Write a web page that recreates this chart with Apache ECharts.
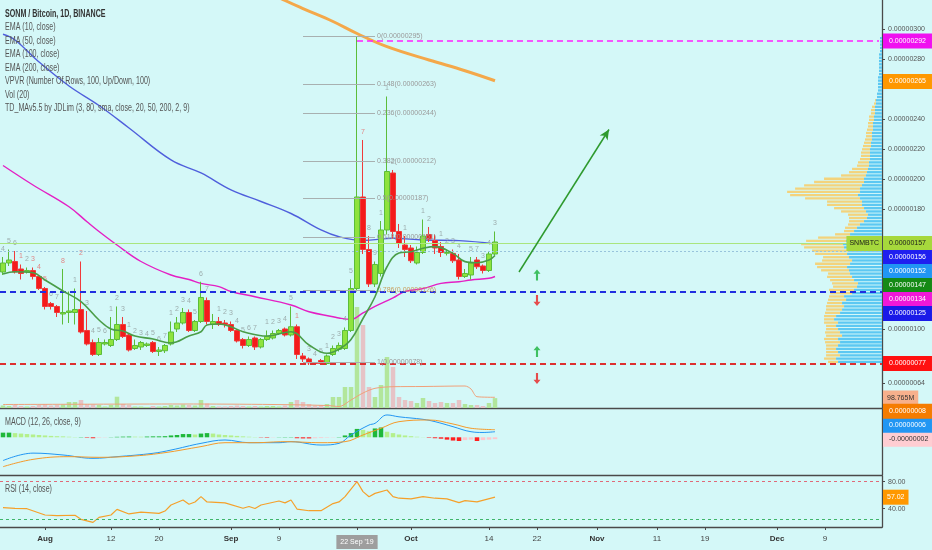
<!DOCTYPE html>
<html><head><meta charset="utf-8">
<script src="https://cdn.jsdelivr.net/npm/echarts@6/dist/echarts.min.js"></script>
<style>html,body{margin:0;padding:0;background:#d4f8f8;overflow:hidden}#c{width:932px;height:550px}</style>
</head><body><div id="c"></div>
<script>
// ---------- categories ----------
const dates = [];
for (let i = 0; i < 147; i++) { dates.push(new Date(Date.UTC(2019, 6, 25 + i)).toISOString().slice(0, 10)); }

// ---------- candles (satoshi) ----------
const open = [138,144,145,140,138,139,135,127,117,115,110,111,111,113,99,91,83,90,89,93,103,96,87,88,89,91,85,85.5,90,100,104,111,99,105,119,103,105,104,103,99,93,89,94,88,93,94,97,100,96,101.5,82,80,77.5,79,77,83,86.5,87,99,127,188,153,130,137,166,204,165,156,154,144,151,163,159,155,150.5,150.4,146,135,136,146,142,139,150];
const close = [144,146,138,137,139,135,127,115,115,111,111,112,113,98,90,83,91,91,93,103,95,86,89,91,90,85,86,89,98,104,111,99,105,121,105,105,103,103,99,92,89,93,88,93,95,97,99,96,101.5,83,80,77.5,77,77,82,87,89,99,127,188,153,130,143,166,205,165,157,153,145.5,151,162,160,154,151,151,145.5,135,137,144,141.5,139,150,158];
const low = [136,142,137,133,137,133,126,113,113,108,103,104,103,97,89,82,82,89,88,92,94,85,86,86,88,84,82,84,89,98,103,98,98,104,103,100,102,101,98,91,87,88,86,87,92,93,96,95,95,80,78,76,76,76,76,82,85,86,98,125,150,128,128,135,163,160,154,148,144,143,150,158,150,148,149,144,133,134,133,140,137,138,149];
const high = [148,153,152,143,141,141,136,128,118,116,140,125,127,145,112,93,94,93,108,115,108,97,93,92,91,92,88,90,105,108,114,113,106,131.5,121,110,108,106,105,100,94,95,95,94,99,99,100,101,115,103,84,81,78,80,83,89,91,101,133,295,226,162,145,172,255,206,170,162,156,155,173,168,163,158,153,153,150,140,148,148,143,152,165];
const volume = [25,20,30,20,15,20,30,40,25,30,35,60,60,80,40,35,30,15,30,113,40,30,15,15,10,20,15,20,30,25,35,30,25,80,45,20,15,15,20,25,20,15,20,15,20,20,15,25,60,80,60,40,25,30,40,110,110,210,210,1010,830,210,110,230,510,410,110,80,70,50,100,70,50,60,50,50,80,40,30,30,20,50,98.765];
const volMaIdx = [0,15,30,45,54,56,58,60,62,65,70,77,78,79,82];
const volMaVal = [35,38,40,35,25,15,80,150,197,213,215,220,190,113,107];

// ---------- TD sequential counts (candle index, text, red?) ----------
const tdIdx = [0,1,2,3,4,5,6,7,8,9,10,12,13,14,15,16,17,18,19,20,21,22,23,24,25,26,27,28,29,30,31,32,33,34,36,37,38,39,40,41,42,44,45,46,47,48,49,51,52,53,54,55,56,57,58,60,61,62,63,64,65,67,70,71,73,74,75,76,78,79,80,81,82];
const tdText = ['4','5','6','1','2','3','4','5','6','7','8','1','2','3','4','5','6','1','2','3','1','2','3','4','5','6','7','1','2','3','4','5','6','7','1','2','3','4','5','6','7','1','2','3','4','5','1','3','4','5','1','2','3','4','5','7','8','9','1','1','2','1','1','2','1','2','3','4','5','7','3','4','3'];
const tdRed = [3,5,6,7,10,13,49,60];

// ---------- moving averages ----------
const ema10Idx = [0,2,5,7,10,13,16,18,20,22,25,28,31,33,34,36,38,40,44,48,51,54,56,58,60,62,64,66,68,70,72,75,77,79,81,82];
const ema10Val = [136.7,138.2,137.5,132.7,125.3,118.2,106,100,98.7,95.3,93.3,90.7,95.3,98.2,102.7,103.3,101.5,98.2,95.3,98.2,89.3,83.8,86.5,93,107,121.5,141.5,150.7,151.5,153.8,154.9,150.4,144.9,144.2,146,149];
const ema50Idx = [0,5,11,14,16,19,23,28,31,33,36,38,42,48,51,55,56,58,60,62,65,67,70,73,76,78,81,82];
const ema50Val = [209,196,181.5,171.5,165,156,145,136,133,130.4,128.2,125,121.5,116,111.5,108.2,107.3,106.5,110.7,115,120.7,125,127,130.4,131.5,132.7,133.8,135];
const ema100Idx = [0,2,6,11,16,21,28,33,38,43,48,53,56,60,65,70,76,82];
const ema100Val = [296.5,292.7,278,262,249,234,212.7,204,192.7,185,177,166,161.5,159,160.5,159.3,158.9,156.7];
const ema200Idx = [44,47,50,55,59,64,71,77,82];
const ema200Val = [325,319,313.6,305,297,288.2,279.3,272.2,265.5];

// ---------- MACD (satoshi) ----------
const macdIdx = [0,5,10,15,19,25,28,33,37,41,46,48,53,56,58,61,62,64,66,70,72,75,78,80,82];
const macdVal = [-25,-17,-19,-22.6,-20.8,-17.2,-13.7,-6.5,-2.9,-5.8,-5.8,-4.7,-8.3,-6.5,2.5,13.2,15,24,22,19.3,16.8,11.4,6,5.2,6];
const signalIdx = [0,5,11,16,22,27,33,37,42,47,53,57,60,63,66,71,75,78,82];
const signalVal = [-31.6,-23.7,-20.8,-21.5,-20,-16.5,-10,-5.8,-5.8,-4.7,-5.8,-4.7,2.5,9.7,16.8,18.6,14.3,9.7,8.2];
const hist = [5,5,4.5,4,3.5,3,2.5,2,1.5,1.2,1,0.6,0.3,0.3,-0.5,-1,-0.5,-0.3,0.2,0.5,0.7,0.8,0.7,0.6,0.8,1,1,1.2,2,2.5,3.5,3.5,3,4,4.5,4,3,2.5,2,1.5,1,0.6,0.3,-0.3,-0.5,-0.3,0.2,0.3,0.3,-1,-1.2,-1.2,-1,-0.8,-0.5,-0.3,0.3,2,4.5,9,8,6.5,9.5,10.5,6,4.5,3,2,1.2,0.6,0.2,-0.5,-1,-1.5,-2.5,-3.5,-4,-3,-2.5,-4,-3,-2.5,-2];

// ---------- RSI ----------
const rsiIdx = [0,2,4,7,9,12,13,15,16,18,19,21,23,26,27,28,30,31,32,33,34,37,40,41,42,43,46,47,48,49,51,53,55,56,57,59,60,61,62,64,65,66,68,70,72,74,76,77,79,82];
const rsiVal = [41.5,40.6,40,30.7,29.8,30.3,24.3,19.8,27.2,30.7,39,32.2,35,33,36.5,45.5,52.9,46.5,50,57.8,50,48.6,40.6,43.3,40.3,45.5,51.4,48.6,52.9,39.5,37,37,47.6,50,57.8,80,65.3,57.8,62.7,67.7,57.8,55.5,54.6,57.8,55.5,54.5,49,52,50,57.02];

// ---------- volume profile (VPVR), 100 rows from 77 to 295 ----------
const vpUp = [44,46,42,44,46,44,42,44,40,42,44,46,44,48,46,42,40,38,40,36,38,30,28,25,24,28,30,32,33,35,32,30,33,35,34,38,39,36,34,32,28,25,22,18,15,14,16,18,20,20,22,24,22,22,20,18,18,16,15,14,13,13,12,12,12,12,11,11,10,10,10,9,9,9,8,8,7,7,7,6,6,5,5,4,4,4,4,4,3,3,3,3,3,3,3,2,2,2,2,2];
const vpDown = [10,12,14,12,10,12,15,14,16,15,12,10,14,10,12,15,16,18,15,18,15,22,25,24,26,24,25,22,28,30,35,30,26,32,36,40,42,40,30,15,10,12,12,15,18,20,25,30,35,35,55,68,73,65,58,50,40,25,18,16,12,11,10,9,9,8,8,7,7,6,6,6,5,5,5,5,4,4,3,2,1,0,0,0,0,0,0,0,0,0,0,0,0,0,0,0,0,0,0,0];

// ---------- annotations ----------
const fibLevels = [0,0.148,0.236,0.382,0.5,0.618,0.786,1];
const fibPrices = [295,263,244,212,187,161,126,78];
const priceTags = [
  {v:292, bg:'#f010f0', fg:'#fff'}, {v:265, bg:'#ff9800', fg:'#fff'}, {v:157, bg:'#a6d83c', fg:'#1a1a1a'},
  {v:156, bg:'#1f1ff0', fg:'#fff'}, {v:152, bg:'#2196f3', fg:'#fff'}, {v:147, bg:'#158a15', fg:'#fff'},
  {v:134, bg:'#f018d8', fg:'#fff'}, {v:125, bg:'#1a1ae8', fg:'#fff'}, {v:77, bg:'#ff1010', fg:'#fff'}];
const macdTags = [{v:-2, bg:'#ffcdd2', fg:'#333'}, {v:6, bg:'#2196f3', fg:'#fff'}, {v:8, bg:'#f57c00', fg:'#fff'}];
const tickDates = ['2019-08-01','2019-08-12','2019-08-20','2019-09-01','2019-09-09','2019-09-22','2019-10-01','2019-10-14','2019-10-22','2019-11-01','2019-11-11','2019-11-19','2019-12-01','2019-12-09'];
const tickTexts = ['Aug','12','20','Sep','9',"22 Sep '19",'Oct','14','22','Nov','11','19','Dec','9'];
const upArrows = [['2019-10-22',136],['2019-10-22',85]];
const downArrows = [['2019-10-22',119],['2019-10-22',67]];

// ---------- layout ----------
const MAIN = {top:0, height:408, min:47.33, max:319.33};
const MACD = {top:409, height:66, min:-40.5, max:30.4};
const RSI = {top:476, height:51, min:12.9, max:88.4};
const GL = -1, GR = 50;
const AX = '#4a4a4a';
const NONE = 'rgba(0,0,0,0)';
const FONT = 'Liberation Sans, DejaVu Sans, sans-serif';
const FS = 7;
const fmtP = v => (v / 1e8).toFixed(8);
const pts = (idx, val) => idx.map((k, j) => [dates[k], val[j]]);

function stack(tags, ppu, down) {
  const gap = 14 / ppu; let prev = null;
  return tags.map(t => { let s = t.v; if (prev !== null) s = down ? Math.min(s, prev - gap) : Math.max(s, prev + gap); prev = s; return Object.assign({}, t, {s}); });
}
const mainPpu = MAIN.height / (MAIN.max - MAIN.min);
const macdPpu = MACD.height / (MACD.max - MACD.min);
const tagLabel = (t, text) => ({yAxis: t.s, lineStyle:{color:NONE, width:0},
  label:{show:true, position:'end', distance:1, formatter:text, backgroundColor:t.bg, color:t.fg, fontSize:FS, fontFamily:FONT, padding:[3,6,3,6], lineHeight:9}});

const mainTagLines = stack(priceTags, mainPpu, true).map(t => tagLabel(t, fmtP(t.v)));
const macdTagLines = stack(macdTags, macdPpu, false).map(t => tagLabel(t, fmtP(t.v)));

const candleData = open.map((o, i) => [o, close[i], low[i], high[i]]);
const volData = volume.map((v, i) => ({value: v, itemStyle:{color: close[i] >= open[i] ? '#b2e69c' : '#e6c3c6'}}));
const histData = hist.map((v, i) => {
  const p = i ? hist[i-1] : v; let c;
  if (v >= 0) c = v >= p ? '#1fb83a' : '#b4f08c'; else c = v <= p ? '#ff1f1f' : '#ffc6cc';
  return {value: v, itemStyle:{color:c}};
});
const tdData = tdIdx.map((k, j) => ({value:[dates[k], high[k]],
  label:{formatter: tdText[j], color: tdRed.indexOf(k) >= 0 ? '#e56a6a' : '#8f9a9a'}}));
const rows = vpUp.map((_, k) => String(k));

const fibLines = fibLevels.map((l, j) => [
  {coord:[dates[50], fibPrices[j]], lineStyle:{color:'#a8b0b0', width:1, type:'solid'},
   label:{show:true, position:'end', distance:2, formatter: l + '(' + fmtP(fibPrices[j]) + ')', color: j === 6 ? '#c9a060' : '#9a9a9a', fontSize:7, fontFamily:FONT, padding:[0,0,10,0]}},
  {coord:[dates[62], fibPrices[j]]}]);

const catX = (gi, show) => ({type:'category', gridIndex:gi, data:dates, boundaryGap:true,
  axisLine:{show:show, onZero:false, lineStyle:{color:AX, width:1.3}}, axisTick:{show:false}, axisLabel:{show:false}, splitLine:{show:false}});

const isTick = (idx, val) => tickDates.indexOf(val) >= 0;

const option = {
  animation:false,
  backgroundColor:'#d4f8f8',
  textStyle:{fontFamily:FONT},
  grid:[
    {left:GL, right:GR, top:MAIN.top, height:MAIN.height},
    {left:GL, right:GR, top:298, height:110},
    {left:GL, right:GR, top:MACD.top, height:MACD.height},
    {left:GL, right:GR, top:RSI.top, height:RSI.height},
    {left:GL, right:GR, top:36.5, height:327}
  ],
  xAxis:[
    catX(0, true), catX(1, false), catX(2, true),
    Object.assign(catX(3, true), {
      axisTick:{show:true, interval:isTick, alignWithLabel:true, length:3, lineStyle:{color:AX}},
      axisLabel:{show:true, interval:isTick, margin:8, color:'#444', fontSize:8, fontFamily:FONT,
        formatter: v => { const t = tickTexts[tickDates.indexOf(v)]; if (t.indexOf("'") >= 0) return '{h|' + t + '}'; return /^[A-Z]/.test(t) ? '{m|' + t + '}' : t; },
        rich:{m:{fontWeight:'bold', fontSize:8, color:'#333', fontFamily:FONT}, h:{backgroundColor:'#9e9e9e', color:'#fff', padding:[4,4,3,4], fontSize:7, fontFamily:FONT}}}
    }),
    {type:'value', gridIndex:4, inverse:true, min:0, max:883, show:false}
  ],
  yAxis:[
    {type:'value', gridIndex:0, position:'right', min:MAIN.min, max:MAIN.max, splitLine:{show:false},
      axisLine:{show:true, lineStyle:{color:AX, width:1.3}},
      axisTick:{show:true, length:3, customValues:[300,280,240,220,200,180,100,64], lineStyle:{color:AX}},
      axisLabel:{show:true, customValues:[300,280,240,220,200,180,100,64], formatter: fmtP, color:'#555', fontSize:FS, margin:6, fontFamily:FONT}},
    {type:'value', gridIndex:1, min:0, max:1100, show:false},
    {type:'value', gridIndex:2, position:'right', min:MACD.min, max:MACD.max, splitLine:{show:false},
      axisLine:{show:true, lineStyle:{color:AX, width:1.3}}, axisTick:{show:false}, axisLabel:{show:false}},
    {type:'value', gridIndex:3, position:'right', min:RSI.min, max:RSI.max, splitLine:{show:false},
      axisLine:{show:true, lineStyle:{color:AX, width:1.3}},
      axisTick:{show:true, length:3, customValues:[40,80], lineStyle:{color:AX}},
      axisLabel:{show:true, customValues:[40,80], formatter: v => v.toFixed(2), color:'#555', fontSize:FS, margin:6, fontFamily:FONT}},
    {type:'category', gridIndex:4, data:rows, show:false}
  ],
  graphic:[
    ['SONM / Bitcoin, 1D, BINANCE', 14, '#333', 'bold'],
    ['EMA (10, close)', 27.5, '#555', 'normal'],
    ['EMA (50, close)', 41, '#555', 'normal'],
    ['EMA (100, close)', 54.5, '#555', 'normal'],
    ['EMA (200, close)', 68, '#555', 'normal'],
    ['VPVR (Number Of Rows, 100, Up/Down, 100)', 81.5, '#555', 'normal'],
    ['Vol (20)', 95, '#555', 'normal'],
    ['TD_MAv5.5 by JDLim (3, 80, sma, close, 20, 50, 200, 2, 9)', 108.5, '#555', 'normal'],
    ['MACD (12, 26, close, 9)', 422.5, '#555', 'normal'],
    ['RSI (14, close)', 489.5, '#555', 'normal']
  ].map(a => ({type:'text', x:5, y:a[1], scaleX:0.71, z:100,
    style:{text:a[0], fill:a[2], fontSize:10, fontWeight:a[3], fontFamily:FONT, textVerticalAlign:'middle'}})),
  series:[
    // volume profile
    {type:'bar', xAxisIndex:4, yAxisIndex:4, stack:'vp', data:vpUp, barWidth:2.3, itemStyle:{color:'#5cc8f2'}, silent:true, z:1},
    {type:'bar', xAxisIndex:4, yAxisIndex:4, stack:'vp', data:vpDown, barWidth:2.3, itemStyle:{color:'#f3d37c'}, silent:true, z:1},
    // volume
    {type:'bar', xAxisIndex:1, yAxisIndex:1, data:volData, barWidth:4.5, z:1,
      markLine:{silent:true, symbol:['none','none'], data:[{yAxis:98.765, lineStyle:{color:NONE, width:0},
        label:{show:true, position:'end', distance:1, formatter:'98.765M', backgroundColor:'#f7b08c', color:'#333', fontSize:FS, fontFamily:FONT, padding:[3,4,3,4], lineHeight:9}}]}},
    {type:'line', xAxisIndex:1, yAxisIndex:1, data:pts(volMaIdx, volMaVal), showSymbol:false, smooth:0.3, lineStyle:{color:'#f0a07a', width:1}, z:2},
    // price
    {type:'candlestick', xAxisIndex:0, yAxisIndex:0, data:candleData, barWidth:4.8, z:4,
      itemStyle:{color:'#8ee33e', color0:'#f41b1b', borderColor:'#5cbd3a', borderColor0:'#f03a3a', borderWidth:1}},
    {type:'line', xAxisIndex:0, yAxisIndex:0, data:pts(ema10Idx, ema10Val), showSymbol:false, smooth:0.4, lineStyle:{color:'#4a9d48', width:1.6}, z:5},
    {type:'line', xAxisIndex:0, yAxisIndex:0, data:pts(ema50Idx, ema50Val), showSymbol:false, smooth:0.4, lineStyle:{color:'#e41fc4', width:1.4}, z:3},
    {type:'line', xAxisIndex:0, yAxisIndex:0, data:pts(ema100Idx, ema100Val), showSymbol:false, smooth:0.4, lineStyle:{color:'#4f5fdc', width:1.4}, z:3},
    {type:'line', xAxisIndex:0, yAxisIndex:0, data:pts(ema200Idx, ema200Val), showSymbol:false, smooth:0.4, lineStyle:{color:'#f4a84a', width:3}, z:3},
    // TD counts
    {type:'scatter', xAxisIndex:0, yAxisIndex:0, data:tdData, symbolSize:1, itemStyle:{color:NONE}, silent:true, z:4,
      label:{show:true, position:'top', distance:4, fontSize:7, fontFamily:FONT}},
    // drawings + tags
    {type:'line', xAxisIndex:0, yAxisIndex:0, data:[], clip:false, z:6,
      markLine:{silent:true, symbol:['none','none'], label:{show:false},
        data:[
          {yAxis:157, lineStyle:{color:'#a9e57e', width:1, type:'solid'}},
          {yAxis:157, lineStyle:{color:NONE, width:0}, label:{show:true, position:'insideEnd', distance:0, formatter:'SNMBTC', backgroundColor:'#a6d83c', color:'#1a1a1a', fontSize:FS, fontFamily:FONT, padding:[3,3,3,3], lineHeight:9}},
          {yAxis:152, lineStyle:{color:'#98c4dc', width:1, type:[2,2]}},
          {yAxis:125, lineStyle:{color:'#1f2ee0', width:2, type:[6,4]}},
          {yAxis:77, lineStyle:{color:'#de3030', width:2, type:[6,4]}},
          [{coord:[dates[59], 292], lineStyle:{color:'#ff20ff', width:1.5, type:[6,4]}}, {coord:[dates[146], 292]}],
          [{coord:['2019-10-19', 138], lineStyle:{color:'#2e9a2e', width:1.5, type:'solid'}}, {coord:['2019-11-03', 233], symbol:'arrow', symbolSize:[7,10]}]
        ].concat(fibLines).concat(mainTagLines)}},
    {type:'scatter', xAxisIndex:0, yAxisIndex:0, data:upArrows, symbol:'path://M5,0 L10,5 L6.5,5 L6.5,13 L3.5,13 L3.5,5 L0,5 Z', symbolSize:[7,11], itemStyle:{color:'#19b23b'}, z:6},
    {type:'scatter', xAxisIndex:0, yAxisIndex:0, data:downArrows, symbol:'path://M5,0 L10,5 L6.5,5 L6.5,13 L3.5,13 L3.5,5 L0,5 Z', symbolRotate:180, symbolSize:[7,11], itemStyle:{color:'#e82020'}, z:6},
    // MACD
    {type:'bar', xAxisIndex:2, yAxisIndex:2, data:histData, barWidth:4.5, z:2},
    {type:'line', xAxisIndex:2, yAxisIndex:2, data:pts(macdIdx, macdVal), showSymbol:false, smooth:0.4, lineStyle:{color:'#2196f3', width:1}, z:3},
    {type:'line', xAxisIndex:2, yAxisIndex:2, data:pts(signalIdx, signalVal), showSymbol:false, smooth:0.4, lineStyle:{color:'#f59a2a', width:1}, z:3,
      markLine:{silent:true, symbol:['none','none'], data:macdTagLines}},
    // RSI
    {type:'line', xAxisIndex:3, yAxisIndex:3, data:pts(rsiIdx, rsiVal), showSymbol:false, lineStyle:{color:'#f5a02a', width:1.2}, z:3,
      markLine:{silent:true, symbol:['none','none'], data:[
        {yAxis:80, lineStyle:{color:'#e06a78', width:1, type:[3,3]}, label:{show:false}},
        {yAxis:25, lineStyle:{color:'#3fb56a', width:1, type:[3,3]}, label:{show:false}},
        {yAxis:57.02, lineStyle:{color:NONE, width:0}, label:{show:true, position:'end', distance:1, formatter:'57.02', backgroundColor:'#ff9800', color:'#fff', fontSize:FS, fontFamily:FONT, padding:[3,4,3,4], lineHeight:9}}
      ]}}
  ]
};
const chart = echarts.init(document.getElementById('c'), null, {renderer:'canvas'});
chart.setOption(option);
</script></body></html>
